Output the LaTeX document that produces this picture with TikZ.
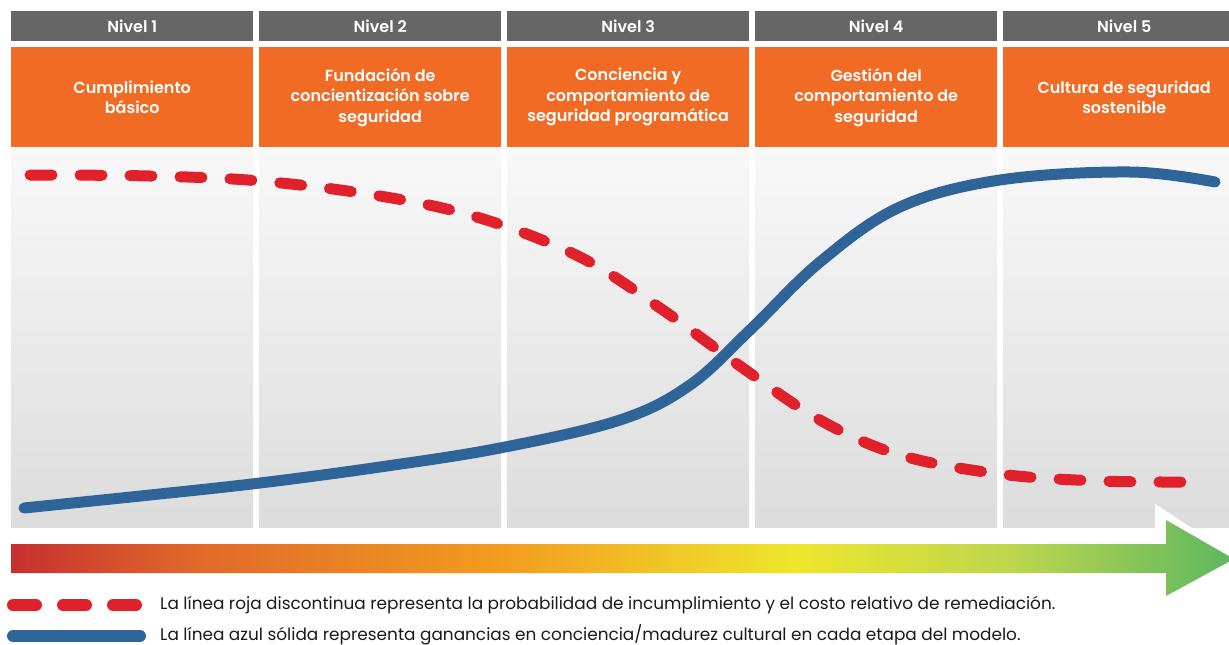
\documentclass[tikz,border=0pt]{standalone}
\usepackage{fontspec}
\setmainfont{Poppins}[BoldFont={Poppins SemiBold}]
\usetikzlibrary{calc}
\definecolor{hdrgray}{HTML}{666666}
\definecolor{lvlorange}{HTML}{F26B25}
\definecolor{riskred}{HTML}{E0202A}
\definecolor{gainblue}{HTML}{2F6499}
\definecolor{bodytop}{HTML}{F8F8F9}
\definecolor{bodybot}{HTML}{DCDCDD}
\definecolor{txtdark}{HTML}{1A1A1A}
\definecolor{gA}{HTML}{C62F2F}
\definecolor{gB}{HTML}{E0692A}
\definecolor{gC}{HTML}{F39C1F}
\definecolor{gD}{HTML}{EEE62C}
\definecolor{gE}{HTML}{BCD64E}
\definecolor{gF}{HTML}{5DB760}
% the path's bounding box covers the 25bp..75bp band of the shading
\pgfdeclarehorizontalshading{maturity}{100bp}{
  color(0bp)=(gA);
  color(25bp)=(gA);
  color(32.5bp)=(gB);
  color(45bp)=(gC);
  color(57bp)=(gD);
  color(66bp)=(gE);
  color(75bp)=(gF);
  color(100bp)=(gF)}
\begin{document}
\begin{tikzpicture}[x=1pt,y=-1pt,
  hdr/.style={fill=hdrgray,text=white,minimum width=242pt,minimum height=30pt,inner sep=0pt,font=\fontsize{16}{17}\selectfont\bfseries},
  lvl/.style={fill=lvlorange,text=white,minimum width=242pt,minimum height=100pt,inner sep=0pt,align=center,font=\fontsize{16}{20.5}\selectfont\bfseries},
  body/.style={top color=bodytop,bottom color=bodybot,draw=none},
  riskline/.style={riskred,line width=11pt,line cap=round,dash pattern=on 22pt off 28pt},
  gainline/.style={gainblue,line width=11pt,line cap=round},
  legtxt/.style={anchor=west,text=txtdark,inner sep=0pt,font=\fontsize{16.9}{18}\selectfont}]
\useasboundingbox (0,0) rectangle (1229,645);
\fill[white] (0,0) rectangle (1229,645);

% five maturity columns
\foreach \i/\lbl/\txt in {1/Nivel 1/{Cumplimiento\\básico},
  2/Nivel 2/{Fundación de\\concientización sobre\\seguridad},
  3/Nivel 3/{Conciencia y\\comportamiento de\\seguridad programática},
  4/Nivel 4/{Gestión del\\comportamiento de\\seguridad},
  5/Nivel 5/{Cultura de seguridad\\sostenible}}{
  \pgfmathsetmacro{\xl}{11+(\i-1)*248}
  \node[hdr,anchor=north west] (h\i) at (\xl,11) {\lbl};
  \node[lvl,anchor=north west] (l\i) at (\xl,47) {\txt};
  \shade[body] (\xl,148) rectangle ++(242,379);
}

% progression arrow with white rim around the head
\fill[white,line join=miter] (1155,504) -- (1240,559) -- (1155,606) -- cycle;
\shade[shading=maturity] (11,544) -- (1166,544) -- (1166,520) -- (1234,559)
  -- (1166,596) -- (1166,573) -- (11,573) -- cycle;

% breach probability / remediation cost
\draw[riskline] plot[smooth,tension=0.6] coordinates {
  (30,175) (150,176) (260,181) (380,196) (480,218) (580,257) (660,308)
  (740,366) (820,420) (900,455) (1000,474) (1100,481) (1200,482)};

% cultural maturity gains
\draw[gainline] plot[smooth,tension=0.6] coordinates {
  (24,508) (150,495) (260,483) (380,467) (500,448) (620,420) (690,385)
  (750,330) (820,262) (900,207) (1000,180) (1130,172) (1215,182)};

% legend
\coordinate (rs) at (13,605);
\coordinate (re) at (140,605);
\draw[riskred,line width=12pt,line cap=round,dash pattern=on 23pt off 27pt] (rs) -- (re);
\coordinate (bs) at (13,636);
\coordinate (be) at (140,636);
\draw[gainblue,line width=12pt,line cap=round] (bs) -- (be);
\node[legtxt] (t1) at (160,605) {La línea roja discontinua representa la probabilidad de incumplimiento y el costo relativo de remediación.};
\node[legtxt] (t2) at (160,635) {La línea azul sólida representa ganancias en conciencia/madurez cultural en cada etapa del modelo.};
\end{tikzpicture}
\end{document}
